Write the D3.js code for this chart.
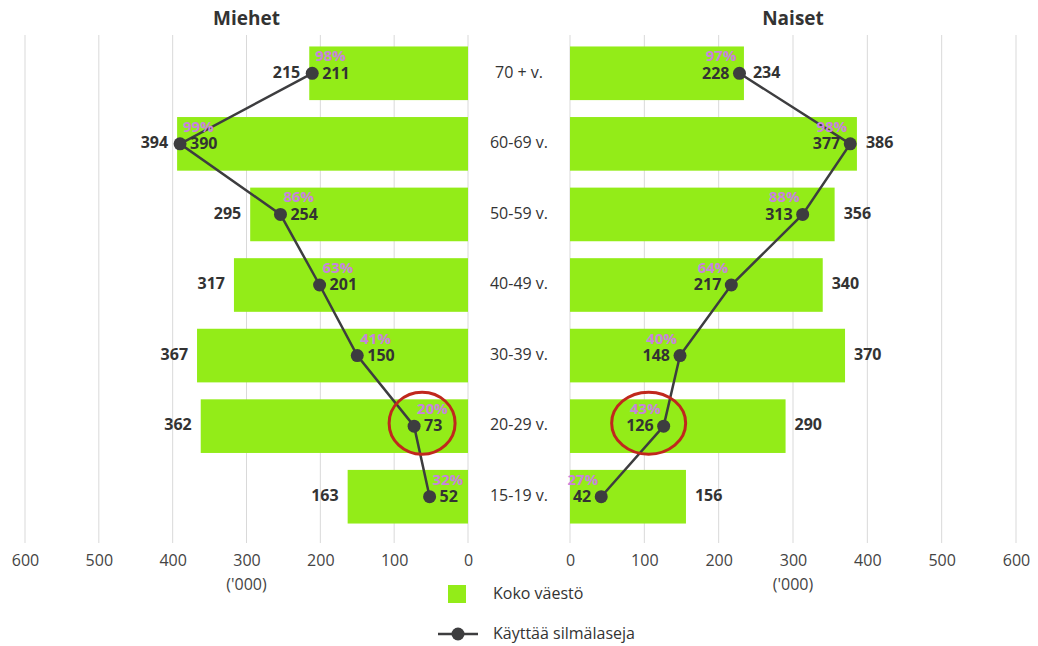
<!DOCTYPE html>
<html>
<head>
<meta charset="utf-8">
<script src="https://cdn.jsdelivr.net/npm/d3@7"></script>
<style>
  body { margin: 0; background: #fff; }
  text { font-family: "Open Sans", sans-serif; }
</style>
</head>
<body>
<div id="chart"></div>
<script>
// Data
var ageGroups = ["70 + v.", "60-69 v.", "50-59 v.", "40-49 v.", "30-39 v.", "20-29 v.", "15-19 v."];
var menTotal = [215, 394, 295, 317, 367, 362, 163];
var menGlasses = [211, 390, 254, 201, 150, 73, 52];
var menPct = [98, 99, 86, 63, 41, 20, 32];
var womenTotal = [234, 386, 356, 340, 370, 290, 156];
var womenGlasses = [228, 377, 313, 217, 148, 126, 42];
var womenPct = [97, 98, 88, 64, 40, 43, 27];
var tickValues = [0, 100, 200, 300, 400, 500, 600];
var highlightGroup = "20-29 v.";

var width = 1038, height = 646;
var barColor = "#93ec18",
    lineColor = "#3d3d3f",
    pctColor = "#c983de",
    textColor = "#333";

var svg = d3.select("#chart").append("svg")
    .attr("width", width)
    .attr("height", height);

var y = d3.scaleBand()
    .domain(ageGroups)
    .range([38, 532])
    .paddingInner(0.24)
    .paddingOuter(0.12);

var xMen = d3.scaleLinear().domain([0, 600]).range([468, 25]);
var xWomen = d3.scaleLinear().domain([0, 600]).range([570, 1016]);

function buildRows(total, glasses, pct) {
    return ageGroups.map(function(g, i) {
        return {group: g, total: total[i], glasses: glasses[i], pct: pct[i]};
    });
}

var panels = [
    {title: "Miehet", x: xMen, rows: buildRows(menTotal, menGlasses, menPct), dir: -1},
    {title: "Naiset", x: xWomen, rows: buildRows(womenTotal, womenGlasses, womenPct), dir: 1}
];

function midY(d) { return y(d.group) + y.bandwidth() / 2; }

panels.forEach(function(p) {
    var g = svg.append("g");

    // gridlines
    g.selectAll("line.grid")
        .data(tickValues).enter().append("line")
        .attr("x1", function(d) { return p.x(d); })
        .attr("x2", function(d) { return p.x(d); })
        .attr("y1", 35).attr("y2", 543)
        .attr("stroke", "#d9d9d9")
        .attr("stroke-width", 1);

    // axis
    var axis = d3.axisBottom(p.x)
        .tickValues(tickValues).tickSize(0).tickPadding(0);
    var ax = g.append("g")
        .attr("transform", "translate(0,560)")
        .call(axis);
    ax.select(".domain").remove();
    ax.selectAll("text")
        .attr("dy", "0.35em")
        .style("font-family", "Open Sans, sans-serif")
        .style("font-size", "16px")
        .attr("fill", "#444");

    g.append("text")
        .attr("x", p.x(300)).attr("y", 586)
        .attr("text-anchor", "middle")
        .attr("dominant-baseline", "middle")
        .style("font-size", "16px")
        .attr("fill", "#444")
        .text("('000)");

    // title
    g.append("text")
        .attr("x", p.x(300)).attr("y", 20)
        .attr("text-anchor", "middle")
        .attr("dominant-baseline", "middle")
        .style("font-size", "19px")
        .style("font-weight", "bold")
        .attr("fill", textColor)
        .text(p.title);

    // bars
    g.selectAll("rect.bar")
        .data(p.rows).enter().append("rect")
        .attr("class", "bar")
        .attr("x", function(d) { return Math.min(p.x(0), p.x(d.total)); })
        .attr("width", function(d) { return Math.abs(p.x(d.total) - p.x(0)); })
        .attr("y", function(d) { return y(d.group); })
        .attr("height", y.bandwidth())
        .attr("fill", barColor);

    // total labels outside bar end
    g.selectAll("text.total")
        .data(p.rows).enter().append("text")
        .attr("x", function(d) { return p.x(d.total) + p.dir * 9; })
        .attr("y", midY)
        .attr("text-anchor", p.dir < 0 ? "end" : "start")
        .attr("dominant-baseline", "middle")
        .style("font-size", "16px")
        .style("font-weight", "bold")
        .attr("fill", textColor)
        .text(function(d) { return d.total; });

    // glasses line
    var line = d3.line()
        .x(function(d) { return p.x(d.glasses); })
        .y(midY);
    g.append("path")
        .datum(p.rows)
        .attr("d", line)
        .attr("fill", "none")
        .attr("stroke", lineColor)
        .attr("stroke-width", 2.5);

    g.selectAll("circle.dot")
        .data(p.rows).enter().append("circle")
        .attr("cx", function(d) { return p.x(d.glasses); })
        .attr("cy", midY)
        .attr("r", 6.5)
        .attr("fill", lineColor);

    // glasses value labels
    g.selectAll("text.glasses")
        .data(p.rows).enter().append("text")
        .attr("x", function(d) { return p.x(d.glasses) - p.dir * 10; })
        .attr("y", function(d) { return midY(d) + 1; })
        .attr("text-anchor", p.dir < 0 ? "start" : "end")
        .attr("dominant-baseline", "middle")
        .style("font-size", "16px")
        .style("font-weight", "bold")
        .attr("fill", textColor)
        .text(function(d) { return d.glasses; });

    // percent labels
    g.selectAll("text.pct")
        .data(p.rows).enter().append("text")
        .attr("x", function(d) { return p.x(d.glasses) - p.dir * 3; })
        .attr("y", function(d) { return midY(d) - 16; })
        .attr("text-anchor", p.dir < 0 ? "start" : "end")
        .attr("dominant-baseline", "middle")
        .style("font-size", "15px")
        .style("font-weight", "bold")
        .attr("fill", pctColor)
        .text(function(d) { return d.pct + "%"; });

    // highlight ellipse
    var h = p.rows.filter(function(d) { return d.group === highlightGroup; })[0];
    g.append("ellipse")
        .attr("cx", p.x(h.glasses) - p.dir * (p.dir < 0 ? 8 : 15))
        .attr("cy", midY(h) - 3)
        .attr("rx", p.dir < 0 ? 33 : 37)
        .attr("ry", 31)
        .attr("fill", "none")
        .attr("stroke", "#c0281d")
        .attr("stroke-width", 3);
});

// category labels
svg.selectAll("text.cat")
    .data(ageGroups).enter().append("text")
    .attr("x", 519)
    .attr("y", function(d) { return y(d) + y.bandwidth() / 2; })
    .attr("text-anchor", "middle")
    .attr("dominant-baseline", "middle")
    .style("font-size", "16px")
    .attr("fill", textColor)
    .text(function(d) { return d; });

// legend
var legend = svg.append("g");
legend.append("rect")
    .attr("x", 448).attr("y", 585).attr("width", 18).attr("height", 18)
    .attr("fill", barColor);
legend.append("text")
    .attr("x", 493).attr("y", 595)
    .attr("dominant-baseline", "middle")
    .style("font-size", "16px")
    .attr("fill", textColor)
    .text("Koko väestö");
legend.append("line")
    .attr("x1", 438).attr("x2", 478).attr("y1", 634).attr("y2", 634)
    .attr("stroke", lineColor).attr("stroke-width", 2.5);
legend.append("circle")
    .attr("cx", 458).attr("cy", 634).attr("r", 6.5)
    .attr("fill", lineColor);
legend.append("text")
    .attr("x", 493).attr("y", 635)
    .attr("dominant-baseline", "middle")
    .style("font-size", "16px")
    .attr("fill", textColor)
    .text("Käyttää silmälaseja");
</script>
</body>
</html>
